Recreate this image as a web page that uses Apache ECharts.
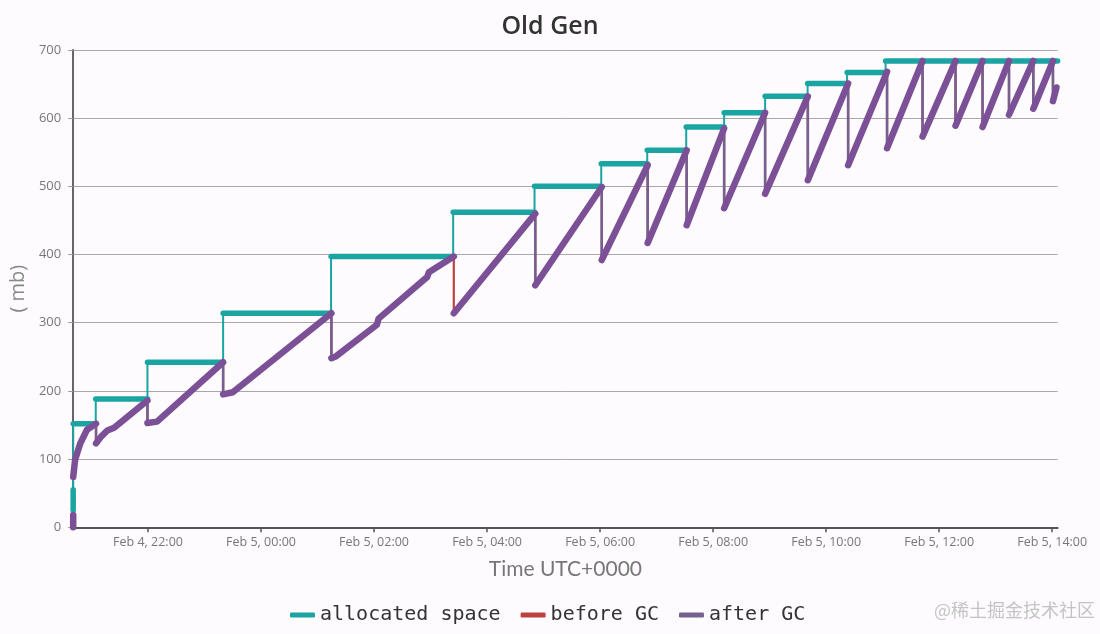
<!DOCTYPE html>
<html>
<head>
<meta charset="utf-8">
<script src="https://cdn.jsdelivr.net/npm/echarts@6/dist/echarts.min.js"></script>
<style>
html,body{margin:0;padding:0;background:#fdfbfd;}
#chart{width:1100px;height:634px;}
</style>
</head>
<body>
<div id="chart"></div>
<script>
// Time is in hours relative to Feb 5, 00:00 UTC
const xTickHours = [-2, 0, 2, 4, 6, 8, 10, 12, 14];
const xTickLabels = ['Feb 4, 22:00', 'Feb 5, 00:00', 'Feb 5, 02:00', 'Feb 5, 04:00', 'Feb 5, 06:00', 'Feb 5, 08:00', 'Feb 5, 10:00', 'Feb 5, 12:00', 'Feb 5, 14:00'];
const startT = -3.324;
const endT = 14.096;

// allocated space: step start times and levels (mb)
const allocT = [-3.324, -2.925, -2.01, -0.671, 1.239, 3.40, 4.84, 6.02, 6.834, 7.524, 8.195, 8.92, 9.672, 10.371, 11.052];
const allocV = [152, 188, 242, 314, 397, 462, 500, 533, 553, 587, 608, 632, 651, 667, 684];
const allocStartDots = [25, 55];

// GC events: time, heap before GC, heap after GC (mb)
const gcT = [-2.92, -2.01, -0.671, 1.245, 3.411, 4.853, 6.029, 6.842, 7.532, 8.195, 8.92, 9.676, 10.389, 11.078, 11.706, 12.29, 12.768, 13.236, 13.666, 14.014];
const beforeGC = [152, 186, 242, 314, 397, 460, 499, 531, 553, 585, 608, 632, 651, 668, 684, 684, 684, 684, 684, 684];
const afterGC = [123, 153, 195, 248, 314, 355, 392, 417, 443, 468, 489, 509, 531, 556, 573, 589, 587, 605, 614, 625];
// GC whose drop has no after-GC link (only the before-GC line is drawn)
const unlinkedGcT = [3.411];

// intermediate heap samples between GCs
const heapT = [-3.324, -3.29, -3.20, -3.08, -2.83, -2.72, -2.60, -1.84, -0.50, 1.33, 2.05, 2.08, 2.94, 2.97, 14.076];
const heapV = [74, 99, 123, 143, 133, 142, 146, 155, 198, 251, 297, 306, 367, 374, 645];
const heapStartStub = [0, 18];

// ---- build paths from the arrays ----
const events = [];
heapT.forEach((t, i) => events.push({t: t, k: 0, v: heapV[i]}));
gcT.forEach((t, i) => events.push({t: t, k: 1, b: beforeGC[i], a: afterGC[i]}));
events.sort((p, q) => p.t - q.t || p.k - q.k);

const fullPath = [], thickPath = [], linkedPath = [];
events.forEach(e => {
  if (e.k === 0) {
    fullPath.push([e.t, e.v]); thickPath.push([e.t, e.v]); linkedPath.push([e.t, e.v]);
  } else {
    fullPath.push([e.t, e.b], [e.t, e.a]);
    thickPath.push([e.t, e.b], [e.t, '-'], [e.t, e.a]);
    if (unlinkedGcT.indexOf(e.t) >= 0) linkedPath.push([e.t, e.b], [e.t, '-'], [e.t, e.a]);
    else linkedPath.push([e.t, e.b], [e.t, e.a]);
  }
});
thickPath.unshift([startT, heapStartStub[0]], [startT, heapStartStub[1]], [startT, '-']);

const allocThin = [[startT, 0]];
const allocThick = [[startT, allocStartDots[0]], [startT, allocStartDots[1]], [startT, '-']];
allocT.forEach((t, i) => {
  const next = i + 1 < allocT.length ? allocT[i + 1] : endT;
  allocThin.push([t, allocV[i]], [next, allocV[i]]);
  allocThick.push([t, allocV[i]], [next, allocV[i]], [next, '-']);
});

const TEAL = '#1ba5a2', RED = '#c0403f', PURPLE = '#7b5096';

function lineSeries(name, data, color, width, z) {
  return {
    name: name, type: 'line', data: data, showSymbol: false, symbol: 'none',
    connectNulls: false, clip: false, z: z, color: color,
    lineStyle: {color: color, width: width, cap: 'round', join: 'round'},
    emphasis: {disabled: true}
  };
}

const chart = echarts.init(document.getElementById('chart'), null, {renderer: 'canvas'});
chart.setOption({
  animation: false,
  backgroundColor: '#fdfbfd',
  title: {
    text: 'Old Gen', left: 'center', top: 9,
    textStyle: {fontFamily: 'Open Sans', fontWeight: 600, fontSize: 25, color: '#333'}
  },
  legend: {
    data: ['allocated space', 'before GC', 'after GC'],
    left: 285, top: 600, icon: 'roundRect', itemWidth: 25, itemHeight: 5, itemGap: 20,
    textStyle: {fontFamily: 'DejaVu Sans Mono', fontSize: 20, color: '#333'}
  },
  graphic: [{
    type: 'text', left: 934, top: 601,
    style: {text: '@稀土掘金技术社区', fontFamily: 'Noto Sans CJK SC', fontSize: 18, fill: '#c4c4c4'}
  }],
  grid: {left: 72.7, right: 42.4, top: 50, bottom: 106.7, containLabel: false},
  xAxis: {
    type: 'value', min: startT, max: endT,
    name: 'Time UTC+0000', nameLocation: 'middle', nameGap: 31,
    nameTextStyle: {fontFamily: 'Lato', fontSize: 21, color: '#777'},
    axisLine: {show: true, onZero: false, lineStyle: {color: '#555', width: 2}},
    axisTick: {show: true, length: 5, customValues: xTickHours, lineStyle: {color: '#555', width: 1.5}},
    axisLabel: {
      customValues: xTickHours, margin: 9, color: '#777', fontSize: 12.5, fontFamily: 'Open Sans',
      formatter: v => { const i = xTickHours.indexOf(v); return i >= 0 ? xTickLabels[i] : ''; }
    },
    splitLine: {show: false}
  },
  yAxis: {
    type: 'value', min: 0, max: 700, interval: 100,
    name: '( mb)', nameLocation: 'middle', nameGap: 36, nameRotate: 90,
    nameTextStyle: {fontFamily: 'Open Sans', fontSize: 20, color: '#888'},
    axisLine: {show: true, onZero: false, lineStyle: {color: '#666', width: 2}},
    axisTick: {show: true, length: 5, lineStyle: {color: '#999'}},
    axisLabel: {margin: 12, color: '#777', fontSize: 13, fontFamily: 'Open Sans'},
    splitLine: {show: true, lineStyle: {color: '#a8a8a8', width: 1}}
  },
  series: [
    lineSeries('allocated space', allocThin, TEAL, 2, 2),
    lineSeries('allocated space', allocThick, TEAL, 5.5, 3),
    lineSeries('before GC', fullPath, RED, 2.2, 4),
    lineSeries('after GC', linkedPath, '#76608f', 2.6, 5),
    lineSeries('after GC', thickPath, PURPLE, 6.5, 6)
  ]
});
</script>
</body>
</html>
